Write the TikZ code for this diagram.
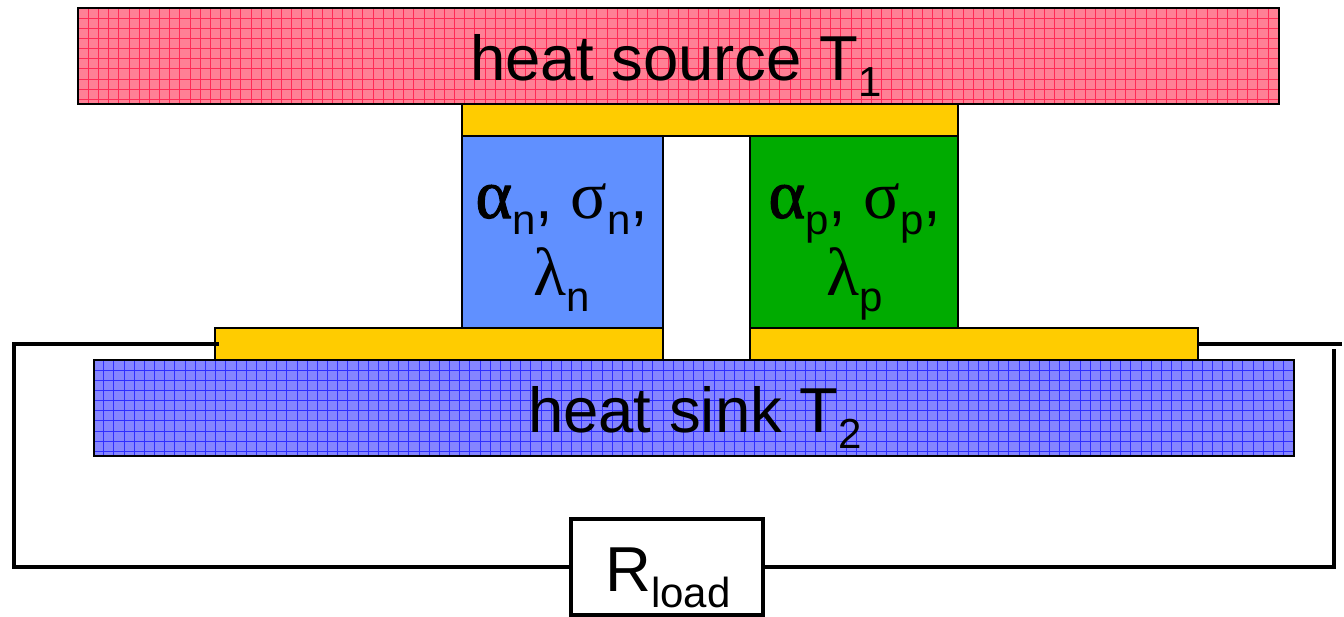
\documentclass[tikz,border=0pt]{standalone}
\usepackage{fontspec}
\setmainfont{Liberation Sans}
\newfontfamily\grk{Liberation Serif}
\newfontfamily\grkb[FakeBold=1.5]{Liberation Serif}
\newcommand{\sbs}[1]{\raisebox{-16pt}{\fontsize{42}{42}\selectfont #1}}
\newcommand{\gl}[1]{{\grk\fontsize{68}{68}\selectfont #1}}
\newcommand{\glb}[1]{{\grkb\fontsize{70}{70}\selectfont #1}}
\definecolor{srcfill}{HTML}{FF8095}
\definecolor{srcline}{HTML}{FF2A55}
\definecolor{snkfill}{HTML}{8585FF}
\definecolor{snkline}{HTML}{2E2EFF}
\definecolor{gold}{HTML}{FFCC00}
\definecolor{nblue}{HTML}{6090FF}
\definecolor{pgreen}{HTML}{00AB00}
\tikzset{
  x=1pt,y=-1pt,
  box/.style={draw=black,inner sep=0pt,outer sep=0pt,anchor=north west,line width=2.8pt},
  plate/.style={inner sep=0pt,outer sep=0pt,anchor=north west},
  contact/.style={box,fill=gold},
  wire/.style={draw=black,line width=4.7pt},
  label/.style={inner sep=0pt,outer sep=0pt,align=center,font=\fontsize{63.5}{75}\selectfont},
  gridline/.style={line width=0.8pt}
}
\begin{document}
\begin{tikzpicture}
\useasboundingbox (0,0) rectangle (1344,616);
% heat source
\node[plate,fill=srcfill,minimum width=1201pt,minimum height=96pt] (sourcebg) at (78,8) {};
\begin{scope}
  \clip (sourcebg.north west) rectangle (sourcebg.south east);
  \foreach \i in {0,...,118}{\draw[gridline,srcline] ({88.3+\i*10.17},8) -- ++(0,96);}
  \foreach \j in {0,...,9}{\draw[gridline,srcline] (78,{18+\j*10.15}) -- ++(1201,0);}
\end{scope}
\node[box,minimum width=1201pt,minimum height=96pt] (source) at (78,8) {};
% heat sink
\node[plate,fill=snkfill,minimum width=1200pt,minimum height=96pt] (sinkbg) at (94,360) {};
\begin{scope}
  \clip (sinkbg.north west) rectangle (sinkbg.south east);
  \foreach \i in {0,...,118}{\draw[gridline,snkline] ({103.7+\i*10.17},360) -- ++(0,96);}
  \foreach \j in {0,...,9}{\draw[gridline,snkline] (94,{370+\j*10.15}) -- ++(1200,0);}
\end{scope}
\node[box,minimum width=1200pt,minimum height=96pt] (sink) at (94,360) {};
\node[contact,minimum width=496pt,minimum height=32pt] (topc) at (462,104) {};
\node[box,fill=nblue,minimum width=201pt,minimum height=192pt] (nleg) at (462,136) {};
\node[box,fill=pgreen,minimum width=208pt,minimum height=192pt] (pleg) at (750,136) {};
\node[contact,minimum width=448pt,minimum height=32pt] (botl) at (215,328) {};
\node[contact,minimum width=448pt,minimum height=32pt] (botr) at (750,328) {};
\node[box,line width=4.7pt,minimum width=192pt,minimum height=96pt,fill=white] (rload) at (571,519) {};
% labels
\node[label,anchor=base] (tsource) at (676,80) {heat source T\sbs{1}};
\node[label,anchor=base] (tsink) at (695,432) {heat sink T\sbs{2}};
\node[label,anchor=base] (tn1) at (562,218) {\glb{α}\sbs{n}, \gl{σ}\sbs{n},};
\node[label,anchor=base] (tn2) at (562,295) {\gl{λ}\sbs{n}};
\node[label,anchor=base] (tp1) at (855,218) {\glb{α}\sbs{p}, \gl{σ}\sbs{p},};
\node[label,anchor=base] (tp2) at (855,295) {\gl{λ}\sbs{p}};
\node[label,anchor=base] (trl) at (668,591) {R\sbs{load}};
% wires
\coordinate (lend) at (219,344);
\coordinate (lcorner) at (14,344);
\coordinate (lbot) at (14,567);
\coordinate (rend) at (1342,344);
\coordinate (rtop) at (1334,349);
\coordinate (rbot) at (1334,567);
\draw[wire] (lend) -- (lcorner) -- (lbot) -- (rload.west);
\draw[wire] (botr.east |- rend) -- (rend);
\draw[wire] (rtop) -- (rbot) -- (rload.east);
\end{tikzpicture}
\end{document}
